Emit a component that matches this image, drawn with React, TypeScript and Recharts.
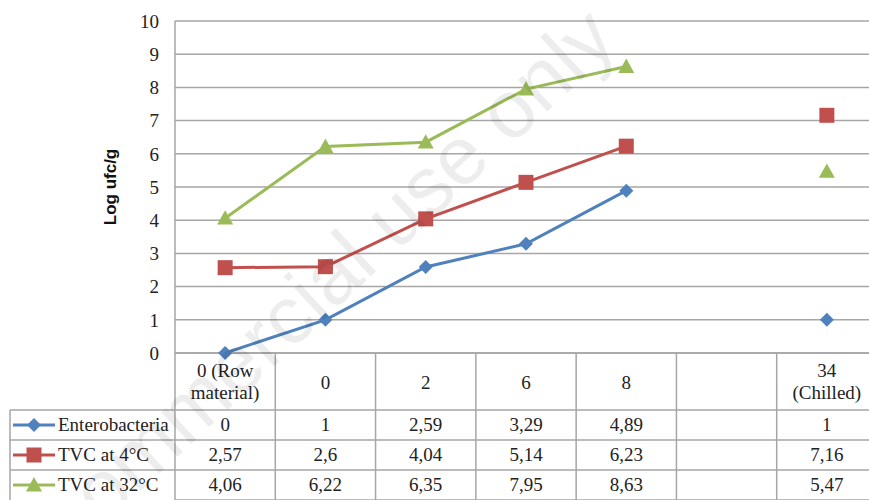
import React from 'react';
import { LineChart, Line, XAxis, YAxis, CartesianGrid } from 'recharts';

// categories (storage days) and the table header text
const categories = ['0 (Row material)', '0', '2', '6', '8', '', '34 (Chilled)'];
const headerLines = [['0 (Row', 'material)'], ['0'], ['2'], ['6'], ['8'], [''], ['34', '(Chilled)']];

// Log ufc/g per category, null = no value (breaks the line)
const enterobacteria = [0, 1, 2.59, 3.29, 4.89, null, 1];
const tvc4 = [2.57, 2.6, 4.04, 5.14, 6.23, null, 7.16];
const tvc32 = [4.06, 6.22, 6.35, 7.95, 8.63, null, 5.47];

const yTicks = [0, 1, 2, 3, 4, 5, 6, 7, 8, 9, 10];

const series = [
  { key: 'ent', name: 'Enterobacteria', values: enterobacteria, color: '#4F81BD', shape: 'diamond' },
  { key: 'tvc4', name: 'TVC at 4°C', values: tvc4, color: '#C0504D', shape: 'square' },
  { key: 'tvc32', name: 'TVC at 32°C', values: tvc32, color: '#9BBB59', shape: 'triangle' },
];

const data = categories.map((cat, i) => {
  const row: Record<string, any> = { cat };
  series.forEach(s => { row[s.key] = s.values[i]; });
  return row;
});

const W = 877;
const H = 500;
const PLOT_LEFT = 175;
const PLOT_TOP = 21;
const PLOT_BOTTOM = 353;
const BAND = (W - PLOT_LEFT) / categories.length;
const GRID = '#A6A6A6';
const SERIF = 'Liberation Serif, Times New Roman, serif';
const SERIF_STYLE = { fontFamily: SERIF };
const FS = 19;
const ROW_TOP = 410;
const ROW_H = 30;
const TABLE_LEFT = 10;

const fmt = (v: number | null) => (v === null ? '' : String(v).replace('.', ','));

function Marker({ shape, cx, cy, color }: { shape: string; cx: number; cy: number; color: string }) {
  if (shape === 'diamond') {
    const r = 7;
    return <polygon points={`${cx},${cy - r} ${cx + r},${cy} ${cx},${cy + r} ${cx - r},${cy}`} fill={color} />;
  }
  if (shape === 'square') {
    const r = 7.5;
    return <rect x={cx - r} y={cy - r} width={r * 2} height={r * 2} fill={color} />;
  }
  const r = 8;
  return <polygon points={`${cx},${cy - r} ${cx + r},${cy + r * 0.8} ${cx - r},${cy + r * 0.8}`} fill={color} />;
}

function TableTick(props: any) {
  const { x, payload } = props;
  const i = payload.index;
  const left = x - BAND / 2;
  const right = x + BAND / 2;
  const lines = headerLines[i] || [];
  const rowYs = series.map((_, r) => ROW_TOP + r * ROW_H);
  return (
    <g>
      <line x1={left} x2={left} y1={PLOT_BOTTOM} y2={H} stroke={GRID} strokeWidth={1.5} />
      {i === categories.length - 1 && (
        <line x1={right} x2={right} y1={PLOT_BOTTOM} y2={H} stroke={GRID} strokeWidth={1.5} />
      )}
      {lines.map((t, k) => (
        <text
          key={k}
          x={x}
          y={lines.length === 1 ? 389 : 377 + k * 22}
          textAnchor="middle"
          style={SERIF_STYLE}
          fontSize={FS}
          fill="#222"
        >
          {t}
        </text>
      ))}
      {rowYs.map((ry, r) => (
        <g key={r}>
          <line x1={left} x2={right} y1={ry} y2={ry} stroke={GRID} strokeWidth={1.5} />
          <text x={x} y={ry + 21} textAnchor="middle" style={SERIF_STYLE} fontSize={FS} fill="#222">
            {fmt(series[r].values[i])}
          </text>
        </g>
      ))}
      <line x1={left} x2={right} y1={ROW_TOP + 3 * ROW_H} y2={ROW_TOP + 3 * ROW_H} stroke={GRID} strokeWidth={1.5} />
      {i === 0 && (
        <g>
          <line x1={TABLE_LEFT} x2={TABLE_LEFT} y1={ROW_TOP} y2={H} stroke={GRID} strokeWidth={1.5} />
          {series.map((s, r) => {
            const ry = ROW_TOP + r * ROW_H;
            const cy = ry + ROW_H / 2;
            return (
              <g key={s.key}>
                <line x1={TABLE_LEFT} x2={left} y1={ry} y2={ry} stroke={GRID} strokeWidth={1.5} />
                <line x1={13} x2={55} y1={cy} y2={cy} stroke={s.color} strokeWidth={3} />
                <Marker shape={s.shape} cx={34} cy={cy} color={s.color} />
                <text x={58} y={ry + 21} style={SERIF_STYLE} fontSize={FS} fill="#222">
                  {s.name}
                </text>
              </g>
            );
          })}
        </g>
      )}
    </g>
  );
}

function makeDot(shape: string, color: string) {
  return (p: any) => {
    if (p.cx == null || p.cy == null || p.value == null) return <g key={`d-${p.index}`} />;
    return (
      <g key={`d-${p.index}`}>
        <Marker shape={shape} cx={p.cx} cy={p.cy} color={color} />
      </g>
    );
  };
}

export default function App() {
  return (
    <div style={{ position: 'relative', width: 869, height: 500, overflow: 'hidden', background: '#fff' }}>
      <style>{'body{margin:0}'}</style>
      <LineChart width={W} height={H} data={data} margin={{ top: PLOT_TOP, right: 0, left: 0, bottom: 0 }}>
        <CartesianGrid vertical={false} stroke={GRID} strokeWidth={1.5} />
        <XAxis
          dataKey="cat"
          interval={0}
          padding={{ left: BAND / 2, right: BAND / 2 }}
          tickLine={false}
          axisLine={{ stroke: GRID, strokeWidth: 1.5 }}
          height={H - PLOT_BOTTOM}
          tick={<TableTick />}
        />
        <YAxis
          width={PLOT_LEFT}
          domain={[0, 10]}
          ticks={yTicks}
          interval={0}
          tickLine={false}
          tickMargin={10}
          axisLine={{ stroke: GRID, strokeWidth: 1.5 }}
          tick={{ style: SERIF_STYLE, fontSize: FS, fill: '#222' }}
          label={() => (
            <text
              x={116}
              y={187}
              transform="rotate(-90 116 187)"
              textAnchor="middle"
              style={{ fontFamily: 'Liberation Sans, Arial, sans-serif' }}
              fontWeight="bold"
              fontSize={17}
              fill="#111"
            >
              Log ufc/g
            </text>
          )}
        />
        {series.map(s => (
          <Line
            key={s.key}
            dataKey={s.key}
            name={s.name}
            type="linear"
            stroke={s.color}
            strokeWidth={3}
            connectNulls={false}
            dot={makeDot(s.shape, s.color)}
            activeDot={false}
            isAnimationActive={false}
          />
        ))}
      </LineChart>
      <svg width={869} height={500} style={{ position: 'absolute', left: 0, top: 0, pointerEvents: 'none' }}>
        <text
          x={620}
          y={44}
          transform="rotate(-43 620 44)"
          textAnchor="end"
          style={{ fontFamily: 'Liberation Sans, Arial, sans-serif' }}
          fontSize={82}
          fill="#000"
          fillOpacity={0.07}
        >
          Non commercial use only
        </text>
      </svg>
    </div>
  );
}
